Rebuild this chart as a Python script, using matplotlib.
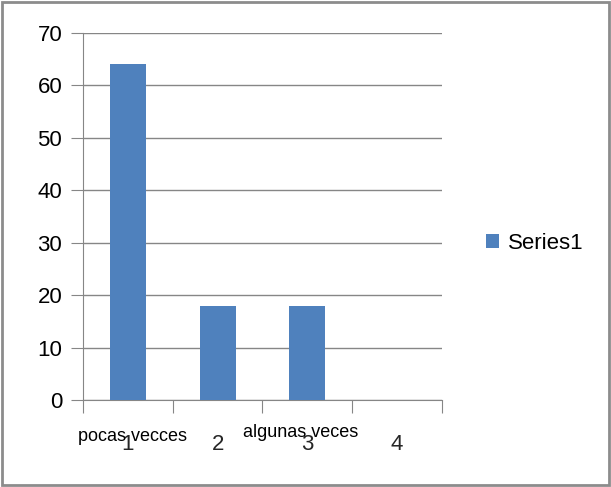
import matplotlib
matplotlib.use("Agg")
from matplotlib import pyplot as plt
from matplotlib.patches import Rectangle

categories = [1, 2, 3, 4]
values = [64, 18, 18, 0]
series_name = "Series1"
notes = ["pocas vecces", "algunas veces"]
note_pos = [1.05, 2.92]

plt.rcParams['font.family'] = ['Liberation Sans', 'DejaVu Sans']

fig = plt.figure(figsize=(6.11, 4.87), dpi=100)
ax = fig.add_axes([0.1358, 0.1786, 0.5876, 0.7536])

grid_c = "#868686"
bar_c = "#4f81bd"

ax.bar(categories, values, width=0.4, color=bar_c, zorder=3, label=series_name)
ax.set_xlim(0.5, 4.5)
ax.set_ylim(0, 70)
ax.set_yticks(range(0, 71, 10))
ax.yaxis.grid(True, color=grid_c, linewidth=1)
ax.set_axisbelow(True)

for s in ["top", "right"]:
    ax.spines[s].set_visible(False)
for s in ["left", "bottom"]:
    ax.spines[s].set_color(grid_c)

ax.set_xticks([0.5, 1.5, 2.5, 3.5, 4.5])
ax.set_xticklabels([])
ax.tick_params(axis="x", length=9, color=grid_c)
ax.tick_params(axis="y", length=9, color=grid_c, labelsize=16, pad=6)

for c in categories:
    ax.text(c, -8.4, str(c), ha="center", va="center", fontsize=16, color="#262626")
for n, p, y in zip(notes, note_pos, [-7.0, -6.1]):
    ax.text(p, y, n, ha="center", va="center", fontsize=13, color="black")

fig.patches.append(Rectangle((0.004, 0.004), 0.992, 0.992, transform=fig.transFigure,
                             fill=False, edgecolor="#8c8c8c", linewidth=2))

fig.legend(loc="center left", bbox_to_anchor=(0.762, 0.5), frameon=False,
           fontsize=16, handlelength=0.6, handleheight=0.6, handletextpad=0.4)

plt.savefig("out.png", format="png")
